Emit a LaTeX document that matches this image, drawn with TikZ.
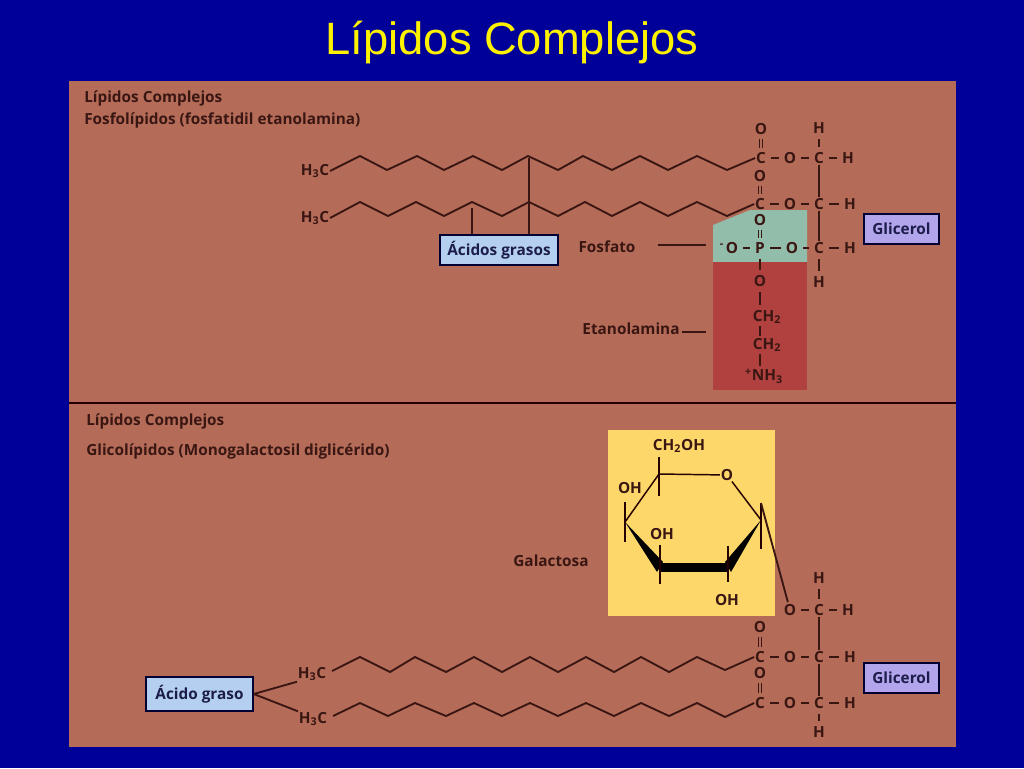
\documentclass[tikz,border=0pt]{standalone}
\usepackage{fontspec}
\setmainfont{Liberation Sans}
\setsansfont{Open Sans}
\usetikzlibrary{positioning}
\definecolor{fondo}{HTML}{000099}
\definecolor{panel}{HTML}{B46C58}
\definecolor{tinta}{HTML}{3A1613}
\definecolor{tintacaja}{HTML}{1C1C4A}
\definecolor{fosfatocol}{HTML}{93BDAB}
\definecolor{etanolcol}{HTML}{B0413F}
\definecolor{azucar}{HTML}{FDD76A}
\definecolor{azulcaja}{HTML}{B4CFF0}
\definecolor{lilacaja}{HTML}{B3A5EC}
\begin{document}
\begin{tikzpicture}[x=0.75pt,y=-0.75pt,
    atom/.style = {inner sep=0.5pt, text=tinta, font=\sffamily\bfseries\fontsize{11.5}{11.5}\selectfont},
    etiq/.style = {inner sep=0pt, text=tinta, font=\sffamily\bfseries\fontsize{11.5}{13}\selectfont},
    caja/.style = {etiq, text=tintacaja, draw=black!80!blue, line width=1.3pt, minimum height=23pt, align=center},
    bond/.style = {draw=tinta, line width=1.3pt, shorten >=3.2pt, shorten <=3.2pt},
    enlace/.style = {draw=tinta, line width=1.4pt},
    dbl/.style = {draw=tinta, line width=0.7pt, shorten >=2.5pt, shorten <=2.5pt},
    anillo/.style = {draw=black!85!red, line width=1.1pt}]
    % fondo y paneles
    \fill[fondo] (0,0) rectangle (1024,768);
    \fill[panel] (69,81) rectangle (956,747);
    \draw[black!85!red, line width=1pt] (69,403) -- (956,403);
    \fill[fosfatocol] (713,225) -- (750,210) -- (807,210) -- (807,262) -- (713,262) -- cycle;
    \fill[etanolcol] (713,262) rectangle (807,390);
    \fill[azucar] (608,430) rectangle (775,616);
    % textos
    \node[text=yellow, inner sep=0pt, font=\fontsize{34}{36}\selectfont] (titulo) at (512,42.5) {Lípidos Complejos};
    \node[etiq, anchor=west] (tit1) at (84,98) {Lípidos Complejos};
    \node[etiq, anchor=west] (sub1) at (84,120) {Fosfolípidos (fosfatidil etanolamina)};
    \node[etiq, anchor=west] (tit2) at (86,421) {Lípidos Complejos};
    \node[etiq, anchor=west] (sub2) at (86,451) {Glicolípidos (Monogalactosil diglicérido)};
    \node[etiq] (fosfato) at (607,247) {Fosfato};
    \node[etiq] (etanol) at (631,329) {Etanolamina};
    \node[etiq] (galactosa) at (551,561) {Galactosa};
    \coordinate (fosfatofin) at (706,245);
    \coordinate (etanolfin) at (706,332);
    \draw[enlace] (fosfato.east)+(22,-2) -- (fosfatofin);
    \draw[enlace] (etanol.east)+(2,3) -- (etanolfin);
    % cajas
    \node[caja, fill=azulcaja, minimum width=88pt] (grasos) at (499,250) {Ácidos grasos};
    \node[caja, fill=azulcaja, minimum width=80pt, minimum height=25pt] (graso) at (199.5,694) {Ácido graso};
    \node[caja, fill=lilacaja, minimum width=56pt] (glicerol1) at (901.5,229) {Glicerol};
    \node[caja, fill=lilacaja, minimum width=56pt] (glicerol2) at (901.5,678) {Glicerol};
    % atomos
    \foreach \n/\t/\x/\y in {
        a1/H\textsubscript{3}C/315/171, a2/H\textsubscript{3}C/315/218,
        o1/O/761/129, c1/C/761/158, o2/O/790/158, c2/C/819/158, h1/H/848/158, h2/H/819/128,
        o3/O/760/176, c3/C/760/204, o4/O/790/204, c4/C/819/204, h3/H/850/204,
        o5/O/760/220, p1/P/760/248, o6/\textsuperscript{-\,}O/729/248, o7/O/792/248, c5/C/819/248, h4/H/850/248, h5/H/819/282,
        o8/O/760/281, n1/CH\textsubscript{2}/767/317, n2/CH\textsubscript{2}/767/345, n3/\textsuperscript{+}NH\textsubscript{3}/764/376,
        b1/H\textsubscript{3}C/312/674, b2/H\textsubscript{3}C/313/719,
        h6/H/819/578, o9/O/790/610, c6/C/819/610, h7/H/848/610,
        o10/O/760/627, c7/C/760/657, o11/O/790/657, c8/C/819/657, h8/H/850/657,
        o12/O/760/673, c9/C/760/703, o13/O/790/703, c10/C/819/703, h9/H/850/703, h10/H/819/732,
        r0/O/727/475, r1/CH\textsubscript{2}OH/679/446, r2/OH/630/488, r3/OH/662/534, r4/OH/727/600}
        \node[atom] (\n) at (\x,\y) {\t};
    % enlaces simples
    \foreach \a/\b in {c1/o2, o2/c2, c2/h1, c2/h2, c3/o4, o4/c4, c4/h3, p1/o6, p1/o7, o7/c5, c5/h4, c5/h5,
        p1/o8, h6/c6, o9/c6, c6/h7, c7/o11, o11/c8, c8/h8, c9/o13, o13/c10, c10/h9, c10/h10}
        \draw[bond] (\a) -- (\b);
    \foreach \a/\b in {c2/c4, c4/c5, c6/c8, c8/c10}
        \draw[enlace] (\a) -- (\b);
    \draw[bond] (o8.south) -- (o8.south |- n1.north);
    \draw[bond, shorten >=1pt, shorten <=1pt] (n1.south -| o8) -- (n2.north -| o8);
    \draw[bond, shorten >=1pt, shorten <=1pt] (n2.south -| o8) -- (n3.north -| o8);
    % enlaces dobles
    \foreach \a/\b in {o1/c1, o3/c3, o5/p1, o10/c7, o12/c9} {
        \draw[dbl] ([xshift=-1.1pt]\a.south) -- ([xshift=-1.1pt]\b.north);
        \draw[dbl] ([xshift=1.1pt]\a.south) -- ([xshift=1.1pt]\b.north);
    }
    % cadenas
    \draw[enlace, line join=round] (a1.east) \foreach \x/\y in {360/156,387/170,417/156,444/170,473/156,502/170,528/156,558/170,583/156,612/170,640/156,668/170,697/156,727/170} { -- (\x,\y)} -- (c1.west);
    \draw[enlace, line join=round] (a2.east) \foreach \x/\y in {360/202,388/216,416/202,444/216,472/202,502/216,529/202,558/216,585/202,612/216,640/202,668/216,697/202,727/216} { -- (\x,\y)} -- (c3.west);
    \draw[enlace, line join=round] (b1.east)+(5,-3) \foreach \x/\y in {360/657,390/672,415/657,446/672,474/657,502/672,530/657,558/672,586/657,614/672,641/657,669/672,697/657,725/670} { -- (\x,\y)} -- (c7.west);
    \draw[enlace, line join=round] (b2.east)+(5,-3) \foreach \x/\y in {360/703,388/716,415/703,446/716,474/703,502/716,530/703,558/716,586/703,614/716,641/703,669/716,697/703,725/717} { -- (\x,\y)} -- (c9.west);
    \draw[enlace] (grasos.north -| 472,0) -- (472,208);
    \draw[enlace] (grasos.north -| 529,0) -- (529,158);
    \draw[enlace] (graso.east) -- (b1.south west);
    \draw[enlace] (graso.east) -- (b2.north west);
    % anillo de galactosa
    \coordinate (v1) at (659,474);
    \coordinate (v2) at (761,520);
    \coordinate (v3) at (728,567);
    \coordinate (v4) at (660,567);
    \coordinate (v5) at (625,522);
    \draw[anillo] (v1) -- (r0);
    \draw[anillo] (r0) -- (v2);
    \draw[anillo] (v1) -- (v5);
    \fill[black] (v5) -- (657,572) -- (663,562) -- cycle;
    \fill[black] (v2) -- (731,572) -- (725,562) -- cycle;
    \fill[black] (659,562.5) rectangle (729,571.5);
    \draw[anillo] (659,457) -- (659,496);
    \draw[anillo] (625,502) -- (625,542);
    \draw[anillo] (660,545) -- (660,584);
    \draw[anillo] (728,546) -- (728,582);
    \draw[anillo] (761,503) -- (761,549);
    \draw[enlace, shorten >=1pt] (761,503) -- (o9);
\end{tikzpicture}
\end{document}
